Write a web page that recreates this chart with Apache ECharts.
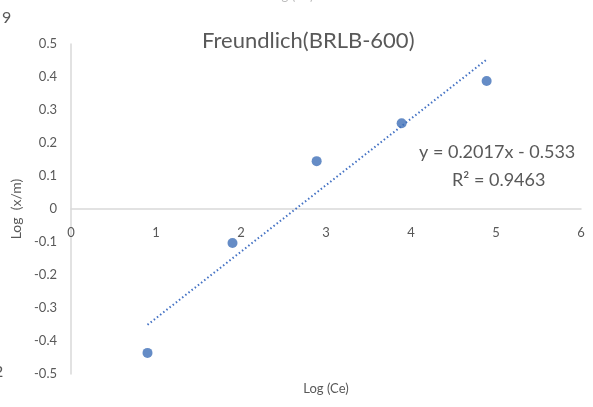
<!DOCTYPE html>
<html><head><meta charset="utf-8">
<script src="https://cdn.jsdelivr.net/npm/echarts@6/dist/echarts.min.js"></script>
<style>html,body{margin:0;padding:0;background:#fff}#c{width:593px;height:407px}</style>
</head><body><div id="c"></div>
<script>
var logCe = [0.9, 1.9, 2.89, 3.89, 4.89];
var logXm = [-0.436, -0.103, 0.145, 0.26, 0.388];
var trendX = [0.9, 4.9];
var trendY = [-0.351, 0.455];
var title = 'Freundlich(BRLB-600)';
var equation = 'y = 0.2017x - 0.533';
var r2 = '0.9463';

var FONT = 'Lato, "Open Sans", sans-serif';
var TXT = '#595959';
var chart = echarts.init(document.getElementById('c'));
chart.setOption({
  animation: false,
  backgroundColor: '#fff',
  title: { text: title, left: 197, top: 25, textStyle: { fontFamily: FONT, fontSize: 22, fontWeight: 'normal', color: TXT } },
  grid: { left: 71, right: 12, top: 44, bottom: 33, containLabel: false, outerBoundsMode: 'none' },
  xAxis: {
    type: 'value', min: 0, max: 6, interval: 1,
    name: 'Log (Ce)', nameLocation: 'middle', nameGap: 8,
    nameTextStyle: { fontFamily: FONT, fontSize: 13, color: TXT },
    axisLine: { onZero: true, lineStyle: { color: '#D9D9D9', width: 1.5 } },
    axisTick: { show: false },
    splitLine: { show: false },
    axisLabel: { fontFamily: FONT, fontSize: 13, color: TXT, margin: -148 }
  },
  yAxis: {
    type: 'value', min: -0.5, max: 0.5, interval: 0.1,
    name: 'Log  (x/m)', nameLocation: 'middle', nameGap: 41, nameRotate: 90,
    nameTextStyle: { fontFamily: FONT, fontSize: 14, color: TXT },
    axisLine: { show: true, onZero: false, lineStyle: { color: '#D9D9D9', width: 1.5 } },
    axisTick: { show: false },
    splitLine: { show: false },
    axisLabel: { fontFamily: FONT, fontSize: 13, color: TXT, margin: 14,
      formatter: function (v) { return String(Math.round(v * 10) / 10); } }
  },
  series: [
    { type: 'line', data: trendX.map(function (x, i) { return [x, trendY[i]]; }), symbol: 'none',
      lineStyle: { color: '#4472C4', width: 2, type: [1.5, 2.5] }, silent: true, z: 1 },
    { type: 'scatter', data: logCe.map(function (x, i) { return [x, logXm[i]]; }), symbolSize: 10,
      itemStyle: { color: '#3F6FB8' }, z: 3 }
  ],
  graphic: [
    { type: 'text', left: 419, top: 143, style: { text: equation, font: '18px ' + FONT, fill: TXT } },
    { type: 'text', left: 452, top: 171, style: { text: 'R² = ' + r2, font: '18px ' + FONT, fill: TXT } },
    { type: 'text', left: 268, top: -11, style: { text: 'Log (Ce)', font: '13px ' + FONT, fill: '#bbb' } },
    { type: 'text', left: 2, top: 10, style: { text: '9', font: '16px ' + FONT, fill: TXT } },
    { type: 'text', left: -6, top: 364, style: { text: '2', font: '16px ' + FONT, fill: TXT } }
  ]
});
</script></body></html>
